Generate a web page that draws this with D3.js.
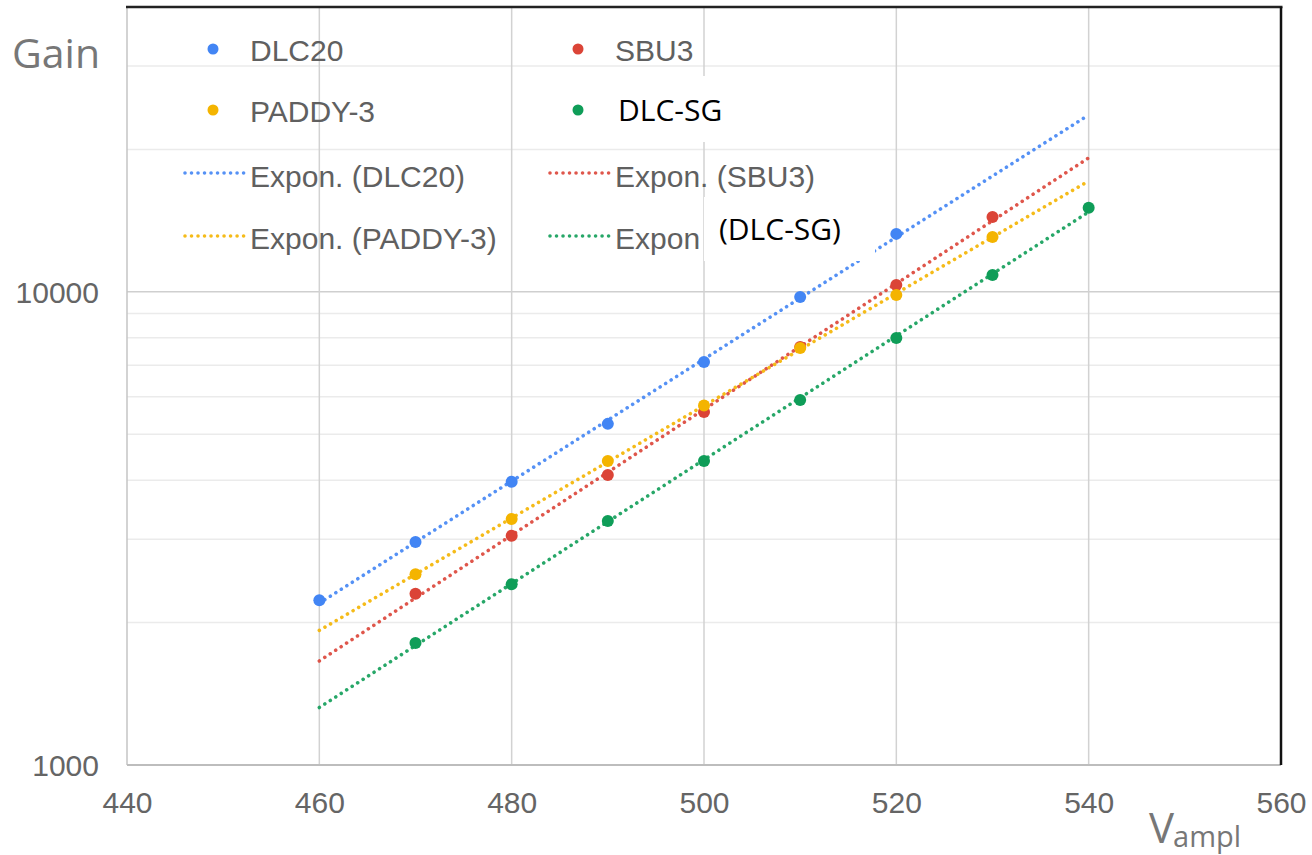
<!DOCTYPE html>
<html>
<head>
<meta charset="utf-8">
<script src="https://cdn.jsdelivr.net/npm/d3@7/dist/d3.min.js"></script>
<style>
  html, body { margin: 0; padding: 0; background: #fff; }
  svg { display: block; }
</style>
</head>
<body>
<svg id="chart" width="1312" height="855"></svg>
<script>
// Amplification voltage (V) for each measurement
const volts = [460, 470, 480, 490, 500, 510, 520, 530, 540];

// Measured gain per detector (null = not measured)
const gainDLC20  = [2230, 2960, 3970, 5260, 7110, 9750, 13260, null, null];
const gainSBU3   = [null, 2300, 3050, 4100, 5570, 7650, 10340, 14400, null];
const gainPADDY3 = [null, 2530, 3310, 4390, 5750, 7610, 9850, 13060, null];
const gainDLCSG  = [null, 1810, 2410, 3280, 4390, 5910, 7990, 10860, 15050];

const seriesNames = ["DLC20", "SBU3", "PADDY-3", "DLC-SG"];
const seriesGains = [gainDLC20, gainSBU3, gainPADDY3, gainDLCSG];

// Axis ticks
const xTicks = [440, 460, 480, 500, 520, 540, 560];
const yLabelTicks = [1000, 10000];
const yMinorGrid = [2000, 3000, 4000, 5000, 6000, 7000, 8000, 9000, 20000, 30000];

// Colours
const seriesColors = ["#4285f4", "#db4437", "#f4b400", "#0f9d58"];

const svg = d3.select("#chart");

const plot = { left: 127, right: 1281, top: 7, bottom: 765 };

const x = d3.scaleLinear().domain([440, 560]).range([plot.left, plot.right]);
const y = d3.scaleLog().domain([1000, 40000]).range([plot.bottom, plot.top]);

// ---- grid ----
const grid = svg.append("g");
grid.selectAll("line.hminor").data(yMinorGrid).join("line")
  .attr("x1", plot.left).attr("x2", plot.right)
  .attr("y1", d => y(d)).attr("y2", d => y(d))
  .attr("stroke", "#ebebeb").attr("stroke-width", 1.5);
grid.append("line")
  .attr("x1", plot.left).attr("x2", plot.right)
  .attr("y1", y(10000)).attr("y2", y(10000))
  .attr("stroke", "#cfcfcf").attr("stroke-width", 1.5);
grid.selectAll("line.v").data(xTicks.slice(1, -1)).join("line")
  .attr("x1", d => x(d)).attr("x2", d => x(d))
  .attr("y1", plot.top).attr("y2", plot.bottom)
  .attr("stroke", "#d2d2d2").attr("stroke-width", 1.5);

// frame
svg.append("line").attr("x1", plot.left).attr("x2", plot.left)
  .attr("y1", plot.top).attr("y2", plot.bottom)
  .attr("stroke", "#c4c4c4").attr("stroke-width", 1.5);
svg.append("line").attr("x1", plot.left).attr("x2", plot.right)
  .attr("y1", plot.bottom).attr("y2", plot.bottom)
  .attr("stroke", "#bdbdbd").attr("stroke-width", 2);
svg.append("line").attr("x1", plot.left - 1).attr("x2", plot.right + 1.5)
  .attr("y1", plot.top).attr("y2", plot.top)
  .attr("stroke", "#222").attr("stroke-width", 2.5);
svg.append("line").attr("x1", plot.right).attr("x2", plot.right)
  .attr("y1", plot.top).attr("y2", plot.bottom)
  .attr("stroke", "#111").attr("stroke-width", 2.5);

// ---- axes ----
const xAxis = d3.axisBottom(x).tickValues(xTicks).tickSize(0).tickPadding(0).tickFormat(d3.format("d"));
const gx = svg.append("g").attr("transform", `translate(0,${plot.bottom})`).call(xAxis);
gx.select(".domain").remove();
gx.selectAll("text")
  .attr("y", 48).attr("dy", null)
  .attr("font-family", "'Liberation Sans', Arial, sans-serif")
  .attr("font-size", 30).attr("fill", "#656565");

const yAxis = d3.axisLeft(y).tickValues(yLabelTicks).tickSize(0).tickPadding(0).tickFormat(d3.format("d"));
const gy = svg.append("g").attr("transform", `translate(99,0)`).call(yAxis);
gy.select(".domain").remove();
gy.selectAll("text")
  .attr("x", 0).attr("dy", "0.35em")
  .attr("font-family", "'Liberation Sans', Arial, sans-serif")
  .attr("font-size", 30).attr("fill", "#656565");

// ---- exponential trend lines (least squares on ln(gain)) ----
function expFit(xs, ys) {
  const pts = xs.map((v, i) => [v, ys[i]]).filter(p => p[1] != null);
  const mx = d3.mean(pts, p => p[0]);
  const my = d3.mean(pts, p => Math.log(p[1]));
  const sxy = d3.sum(pts, p => (p[0] - mx) * (Math.log(p[1]) - my));
  const sxx = d3.sum(pts, p => (p[0] - mx) ** 2);
  const b = sxy / sxx;
  const a = my - b * mx;
  return v => Math.exp(a + b * v);
}

const dotStyle = sel => sel
  .attr("stroke-opacity", 0.9)
  .attr("stroke-width", 3.6)
  .attr("stroke-linecap", "round")
  .attr("stroke-dasharray", "0.01 6.5");

const xExtent = d3.extent(volts);
const trendLine = d3.line().x(d => x(d[0])).y(d => y(d[1]));
const trends = svg.append("g");
seriesGains.forEach((g, i) => {
  const f = expFit(volts, g);
  const ends = xExtent.map(v => [v, f(v)]);
  trends.append("path")
    .attr("d", trendLine(ends))
    .attr("fill", "none")
    .attr("stroke", seriesColors[i])
    .call(dotStyle);
});

// ---- data points ----
const points = svg.append("g");
seriesGains.forEach((g, i) => {
  const pts = volts.map((v, k) => [v, g[k]]).filter(p => p[1] != null);
  points.selectAll(null).data(pts).join("circle")
    .attr("cx", d => x(d[0])).attr("cy", d => y(d[1]))
    .attr("r", 6).attr("fill", seriesColors[i]);
});

// ---- legend ----
const legendFont = "'Liberation Sans', Arial, sans-serif";
const legendColor = "#606060";
const legend = svg.append("g");
const cols = [213, 578];
const rowsDot = [49, 110];
const rowsDotBase = [61, 122];
const rowsLine = [173, 236];
const rowsLineBase = [187, 249];
// marker entries
[[0, 0, 0], [1, 1, 0], [2, 0, 1]].forEach(([s, c, r]) => {
  legend.append("circle").attr("cx", cols[c]).attr("cy", rowsDot[r]).attr("r", 5.5)
    .attr("fill", seriesColors[s]);
  legend.append("text").attr("x", cols[c] + 37).attr("y", rowsDotBase[r])
    .attr("font-family", legendFont).attr("font-size", 30).attr("fill", legendColor)
    .text(seriesNames[s]);
});
legend.append("circle").attr("cx", cols[1]).attr("cy", rowsDot[1]).attr("r", 5.5)
  .attr("fill", seriesColors[3]);

// trend entries
[[0, 0, 0], [1, 1, 0], [2, 0, 1], [3, 1, 1]].forEach(([s, c, r]) => {
  legend.append("line")
    .attr("x1", cols[c] - 28).attr("x2", cols[c] + 31)
    .attr("y1", rowsLine[r]).attr("y2", rowsLine[r])
    .attr("stroke", seriesColors[s])
    .call(dotStyle);
  legend.append("text").attr("x", cols[c] + 37).attr("y", rowsLineBase[r])
    .attr("font-family", legendFont).attr("font-size", 30).attr("fill", legendColor)
    .text(s === 3 ? "Expon" : `Expon. (${seriesNames[s]})`);
});

// relabelled entries on white patches
const patchFont = "'Open Sans', 'Noto Sans', sans-serif";
svg.append("rect").attr("x", 603).attr("y", 76).attr("width", 172).attr("height", 66).attr("fill", "#fff");
svg.append("text").attr("x", 618).attr("y", 121)
  .attr("font-family", patchFont).attr("font-size", 30).attr("fill", "#000")
  .text("DLC-SG");
svg.append("rect").attr("x", 704).attr("y", 197).attr("width", 171).attr("height", 64).attr("fill", "#fff");
svg.append("text").attr("x", 719).attr("y", 240)
  .attr("font-family", patchFont).attr("font-size", 30).attr("fill", "#000")
  .text("(DLC-SG)");

// ---- axis titles ----
svg.append("text").attr("x", 12).attr("y", 68)
  .attr("font-family", patchFont).attr("font-size", 41).attr("fill", "#777")
  .text("Gain");
const vt = svg.append("text").attr("x", 1149).attr("y", 843)
  .attr("font-family", patchFont).attr("fill", "#777");
vt.append("tspan").attr("font-size", 42).text("V");
vt.append("tspan").attr("font-size", 29).attr("dy", 4).attr("dx", -1).text("ampl");
</script>
</body>
</html>
